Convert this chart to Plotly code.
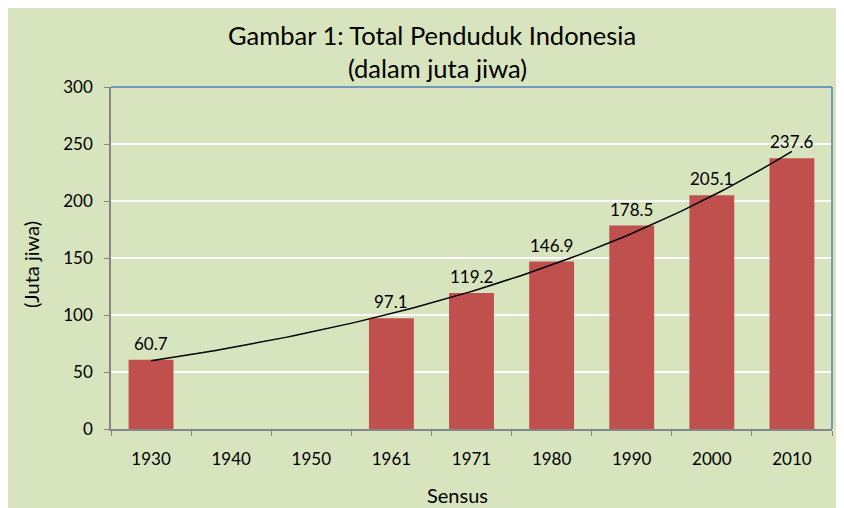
import numpy as np
import plotly.graph_objects as go

categories = ["1930", "1940", "1950", "1961", "1971", "1980", "1990", "2000", "2010"]
values = [60.7, None, None, 97.1, 119.2, 146.9, 178.5, 205.1, 237.6]
y_ticks = [0, 50, 100, 150, 200, 250, 300]

BG = "#D7E4BD"
BAR = "#C0504D"
AX = "#868686"
BLUE = "#4F81BD"
FONT = "Lato"

# exponential trendline (Excel-style) fitted on category index
idx = np.array([i + 1 for i, v in enumerate(values) if v is not None], dtype=float)
yy = np.array([v for v in values if v is not None], dtype=float)
b, loga = np.polyfit(idx, np.log(yy), 1)
tx = np.linspace(1, len(categories), 100)
ty = np.exp(loga) * np.exp(b * tx)

fig = go.Figure()
fig.add_trace(go.Bar(
    x=categories, y=[0 if v is None else v for v in values],
    marker=dict(color=BAR, line=dict(width=0)),
    width=0.56,
    showlegend=False, hoverinfo="skip",
))
fig.add_trace(go.Scatter(
    x=tx - 1, y=ty, xaxis="x2", mode="lines",
    line=dict(color="black", width=1.5), showlegend=False,
))

# page body has an 8px margin; the figure sits at (8, 8)
W, H = 836, 500
L, R, T, B = 103, 12, 79, 79
pw, ph = W - L - R, H - T - B

def px_x(p):
    return (p - L) / pw

def px_y(p):
    return (H - B - p) / ph

annotations = [
    dict(text="Gambar 1: Total Penduduk Indonesia", xref="paper", yref="paper",
         x=px_x(424), y=px_y(27), showarrow=False, font=dict(size=25.5),
         xanchor="center", yanchor="middle"),
    dict(text="(dalam juta jiwa)", xref="paper", yref="paper",
         x=px_x(429), y=px_y(60), showarrow=False, font=dict(size=25.5),
         xanchor="center", yanchor="middle"),
    dict(text="Sensus", xref="paper", yref="paper", x=px_x(449), y=px_y(487),
         showarrow=False, font=dict(size=20), xanchor="center", yanchor="middle"),
    dict(text="(Juta jiwa)", xref="paper", yref="paper", x=px_x(23), y=px_y(257),
         showarrow=False, textangle=-90, font=dict(size=20), xanchor="center", yanchor="middle"),
]
for i, v in enumerate(values):
    if v is not None:
        annotations.append(dict(text=f"{v:.1f}", x=i, y=v, xref="x2", yref="y",
                                showarrow=False, yanchor="bottom", yshift=4,
                                font=dict(size=17)))

fig.update_layout(
    width=W, height=H,
    margin=dict(l=L, r=R, t=T, b=B),
    paper_bgcolor=BG, plot_bgcolor=BG,
    font=dict(family=FONT, size=17, color="black"),
    bargap=0.44,
    xaxis=dict(type="category", categoryorder="array", categoryarray=categories,
               showline=True, linecolor=AX, linewidth=1.5,
               ticks="outside", tickson="boundaries", ticklen=5, tickcolor=AX,
               ticklabelstandoff=14,
               showgrid=False, tickfont=dict(size=17), range=[-0.5, 8.5]),
    xaxis2=dict(overlaying="x", range=[-0.5, 8.5], visible=False),
    yaxis=dict(range=[0, 300], tickvals=y_ticks, showline=True, linecolor=AX, linewidth=1.5,
               ticks="outside", ticklen=5, tickcolor=AX, ticklabelstandoff=8,
               showgrid=True, gridcolor="white", gridwidth=1.5,
               zeroline=False, tickfont=dict(size=17)),
    annotations=annotations,
    shapes=[
        dict(type="line", xref="paper", yref="paper", x0=0, x1=1, y0=1, y1=1,
             line=dict(color=BLUE, width=1.5)),
        dict(type="line", xref="paper", yref="paper", x0=1, x1=1, y0=0, y1=1,
             line=dict(color=BLUE, width=1.5)),
    ],
)

fig.write_html("out.html")
